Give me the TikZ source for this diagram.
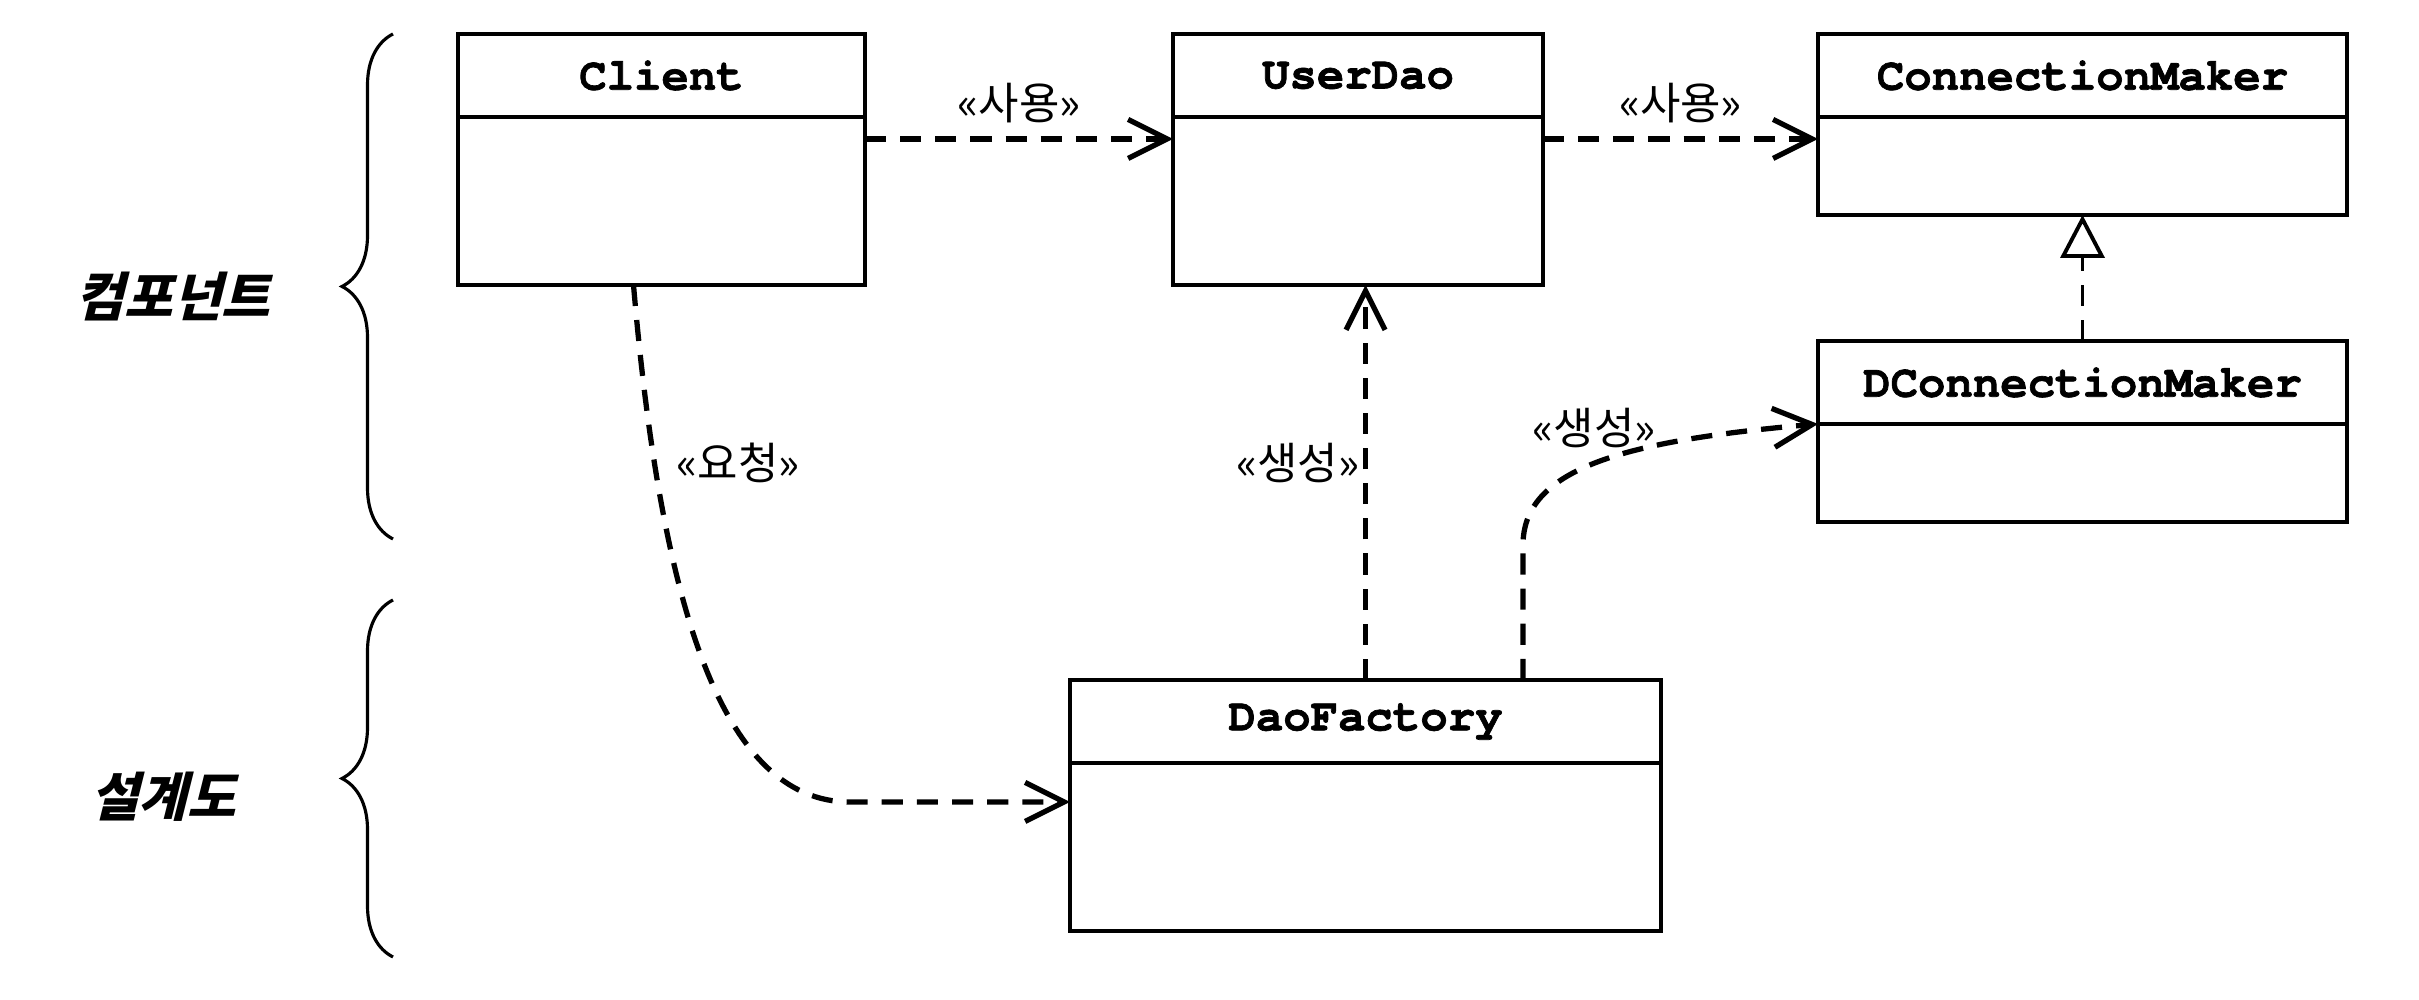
\documentclass[tikz,border=0pt]{standalone}
\usepackage{fontspec}
\setmonofont{texgyrecursor}[Extension=.otf, UprightFont=*-regular, BoldFont=*-bold, BoldFeatures={FakeBold=1.5}]
\newfontfamily\kor{Noto Sans CJK KR}
\newfontfamily\korslant[FakeSlant=0.25]{Noto Sans CJK KR}
\usetikzlibrary{positioning,arrows.meta,decorations.pathreplacing}
\tikzstyle{classhead} = [rectangle, draw, line width=1.1pt, outer sep=0pt, inner sep=0pt,
    minimum height=0.83cm, font=\ttfamily\bfseries\fontsize{13pt}{15pt}\selectfont]
\tikzstyle{classbody} = [rectangle, draw, line width=1.1pt, outer sep=0pt, minimum height=1.68cm]
\tikzstyle{classbodysmall} = [classbody, minimum height=0.98cm]
\tikzstyle{use} = [draw, line width=1.5pt, dash pattern=on 6pt off 4pt,
    -{Straight Barb[length=3.9mm,width=3.9mm]}]
\tikzstyle{realize} = [draw, line width=1.1pt, dash pattern=on 6pt off 4pt,
    -{Triangle[open,length=4.3mm,width=4.4mm,fill=white]}]
\tikzstyle{stereo} = [font=\kor\fontsize{12.5pt}{14pt}\selectfont, inner sep=1pt]
\tikzstyle{layer} = [font=\korslant\bfseries\fontsize{15pt}{17pt}\selectfont]
\tikzstyle{bracket} = [draw, line width=0.9pt, decorate, decoration={brace, amplitude=0.51cm}]

\begin{document}
\begin{tikzpicture}
    \useasboundingbox (0,0) rectangle (24.19,10);
    % Place nodes
    \node [classhead, minimum width=4.07cm, anchor=north west] (client) at (4.58,9.66) {Client};
    \node [classbody, minimum width=4.07cm, below=0pt of client] (clientbody) {};
    \node [classhead, minimum width=3.70cm, anchor=north west] (userdao) at (11.73,9.66) {UserDao};
    \node [classbody, minimum width=3.70cm, below=0pt of userdao] (userdaobody) {};
    \node [classhead, minimum width=5.29cm, anchor=north west] (connmaker) at (18.18,9.66) {ConnectionMaker};
    \node [classbodysmall, minimum width=5.29cm, below=0pt of connmaker] (connmakerbody) {};
    \node [classhead, minimum width=5.29cm, anchor=north west] (dconnmaker) at (18.18,6.59) {DConnectionMaker};
    \node [classbodysmall, minimum width=5.29cm, below=0pt of dconnmaker] (dconnmakerbody) {};
    \node [classhead, minimum width=5.91cm, anchor=north west] (daofactory) at (10.70,3.20) {DaoFactory};
    \node [classbody, minimum width=5.91cm, below=0pt of daofactory] (daofactorybody) {};
    \node [layer] (component) at (1.73,7.03) {컴포넌트};
    \node [layer] (blueprint) at (1.63,2.03) {설계도};
    \node [stereo] (request) at (7.38,5.37) {«요청»};
    \node [stereo] (create) at (15.94,5.72) {«생성»};
    % Draw braces
    \path [bracket] (3.93,4.61) -- (3.93,9.66);
    \path [bracket] (3.93,0.43) -- (3.93,4.00);
    % Draw edges
    \path [use] ([yshift=-0.22cm]clientbody.north east) --node [stereo, above=0.1cm] {«사용»} ([yshift=-0.22cm]userdaobody.north west);
    \path [use] ([yshift=-0.22cm]userdaobody.north east) --node [stereo, above=0.1cm] {«사용»} ([yshift=-0.22cm]connmakerbody.north west);
    \path [use] (daofactory.north) --node [stereo, left, pos=0.55] {«생성»} (daofactory.north |- userdaobody.south);
    \path [use] ([xshift=-1.38cm]daofactory.north east) -- ++(0,1.35) .. controls +(0,0.75) and +(-1.98,-0.17) .. (dconnmakerbody.north west);
    \path [use] ([xshift=-0.28cm]clientbody.south) .. controls +(0.27,-3.15) and +(-1.3,0) .. ([xshift=-2.2cm,yshift=-0.39cm]daofactorybody.north west) -- ([yshift=-0.39cm]daofactorybody.north west);
    \path [realize] (dconnmaker.north) -- (connmakerbody.south);
\end{tikzpicture}
\end{document}
